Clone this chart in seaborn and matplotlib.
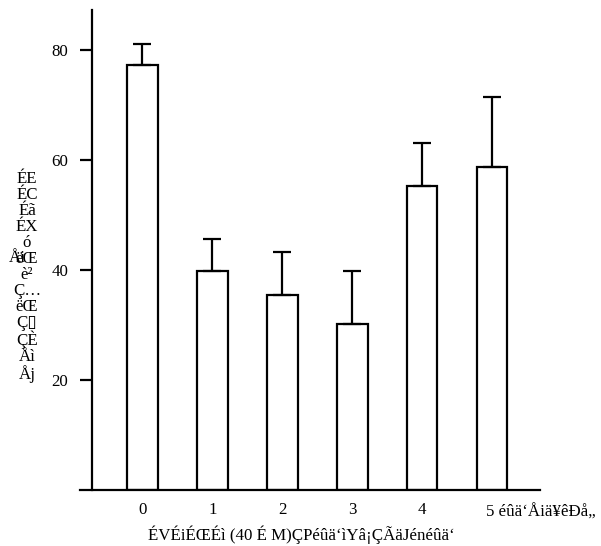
import numpy as np
import pandas as pd
import seaborn as sns
import matplotlib.pyplot as plt
import matplotlib.transforms as mtransforms

# values
groups = ["0", "1", "2", "3", "4", "5"]
tick_labels = ["0", "1", "2", "3", "4", "5 éûä‘Åiä¥êÐå„  Åj"]
means = [77.3, 39.8, 35.5, 30.2, 55.3, 58.7]
errors = [3.8, 5.8, 7.8, 9.6, 7.8, 12.8]
y_ticks = [20, 40, 60, 80]

x_label = "ÉVÉiÉŒÉì (40 É M)ÇPéûä‘ìYâ¡ÇÃäJénéûä‘"
y_rows = ["ÉE", "ÉC", "Éã", "ÉX", "ó", "ëŒ", "è²", "Ç…", "ëŒ", "Ç\u25af", "ÇÈ", "Åì", "Åj"]

df = pd.DataFrame({"group": groups, "value": means})

sns.set_style("ticks")
plt.rcParams['font.family'] = ['Liberation Serif', 'DejaVu Sans']
plt.rcParams['text.color'] = 'black'
plt.rcParams['axes.labelcolor'] = 'black'
plt.rcParams['xtick.color'] = 'black'
plt.rcParams['ytick.color'] = 'black'
plt.rcParams['axes.edgecolor'] = 'black'
fs = 12.2

fig = plt.figure(figsize=(6.01, 5.46), dpi=100)
ax = fig.add_axes([80 / 601, 56 / 546, 460 / 601, 480 / 546])

lw = 1.6
sns.barplot(data=df, x="group", y="value", color="white", edgecolor="black",
            linewidth=lw, width=0.44, saturation=1, errorbar=None, ax=ax)
ax.errorbar(x=np.arange(len(means)), y=means, yerr=[np.zeros(len(means)), errors],
            fmt="none", ecolor="black", elinewidth=lw, capsize=6.8, capthick=lw, zorder=5)

ax.set_xlim(-0.894, 5.687)
ax.set_ylim(0, 87.3)
ax.set_yticks(y_ticks)
ax.set_xticks(np.arange(len(groups)))
ax.set_xticklabels(tick_labels)

# axes styling
for side in ["top", "right"]:
    ax.spines[side].set_visible(False)
ax.spines["left"].set_position(("data", -0.722))
ax.spines["left"].set_linewidth(lw)
ax.spines["bottom"].set_linewidth(lw)
ax.tick_params(axis="y", direction="out", length=8.6, width=lw, pad=8.6, labelsize=fs)
ax.tick_params(axis="x", length=0, pad=9, labelsize=fs)

# last tick label runs off to the right
last = ax.get_xticklabels()[-1]
last.set_ha("left")
last.set_transform(last.get_transform() + mtransforms.ScaledTranslation(-6 / 100, 0, fig.dpi_scale_trans))

ax.set_xlabel(x_label, fontsize=fs)
ax.xaxis.set_label_coords((301 - 80) / 460, -0.074)
ax.set_ylabel("")

# stacked vertical y label
fig.text(27 / 601, 1 - 277 / 546, "\n".join(y_rows), ha="center", va="center",
         fontsize=fs, linespacing=1.0)
fig.text(17 / 601, 1 - 258 / 546, "Åi", ha="center", va="center", fontsize=fs)

plt.savefig("out.png", dpi=100)
